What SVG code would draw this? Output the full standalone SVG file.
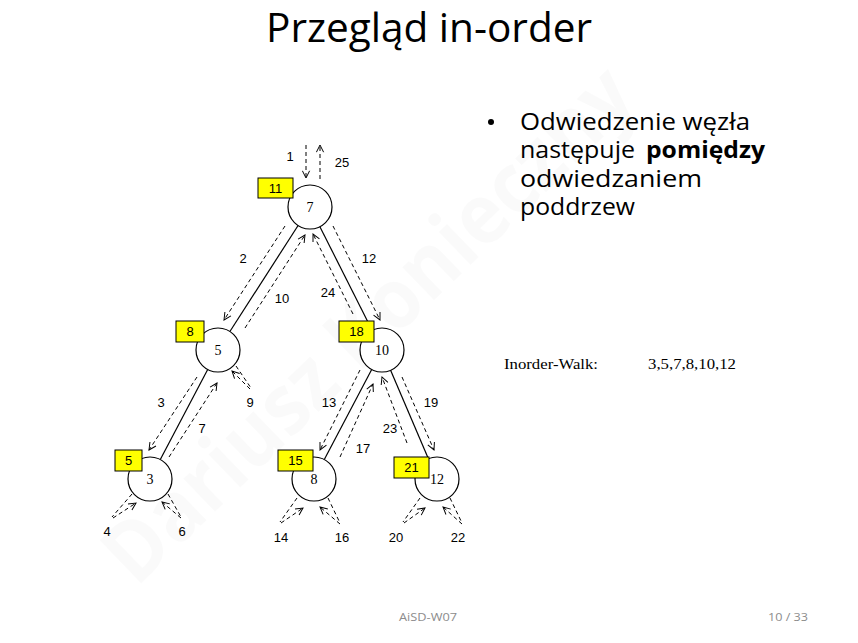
<svg xmlns="http://www.w3.org/2000/svg" width="858" height="643" viewBox="0 0 858 643">
  <style>
    .title { font-family: "Open Sans", "Liberation Sans", sans-serif; font-size: 40px; fill: #000; }
    .bullet { font-family: "Open Sans", "Liberation Sans", sans-serif; font-size: 24px; fill: #000; }
    .foot { font-family: "Open Sans", "Liberation Sans", sans-serif; font-size: 11px; fill: #8c8c8c; }
    .serif { font-family: "Liberation Serif", "Times New Roman", serif; fill: #000; }
    .num { font-family: "Liberation Sans", Arial, sans-serif; font-size: 13px; fill: #000; text-anchor: middle; }
    .key { font-family: "Liberation Sans", Arial, sans-serif; font-size: 13px; fill: #000; text-anchor: middle; }
    .circle { fill: #fff; stroke: #000; stroke-width: 1.2; }
    .box { fill: #ffff00; stroke: #000; stroke-width: 1; }
    .nodeval { font-family: "Liberation Serif", "Times New Roman", serif; font-size: 14px; fill: #000; text-anchor: middle; }
    .edge { stroke: #000; stroke-width: 1.2; fill: none; }
    .walk { stroke: #000; stroke-width: 1; fill: none; stroke-dasharray: 4 3; }
    .walk-a { stroke: #000; stroke-width: 1; fill: none; stroke-dasharray: 4 3; marker-end: url(#open); }
  </style>
  <defs>
    <marker id="open" viewBox="0 0 10 10" refX="9" refY="5" markerWidth="9" markerHeight="9" markerUnits="userSpaceOnUse" orient="auto">
      <path d="M1,1 L9,5 L1,9" fill="none" stroke="#000" stroke-width="1.1" stroke-dasharray="none"/>
    </marker>
  </defs>

  <rect width="858" height="643" fill="#fff"/>

  <!-- faint diagonal author watermark -->
  <text x="388" y="345" transform="rotate(-44 388 345)" text-anchor="middle" font-family="'Open Sans', 'Liberation Sans', sans-serif" font-weight="bold" font-size="84" fill="#000" fill-opacity="0.018" textLength="700" lengthAdjust="spacingAndGlyphs">Dariusz Konieczny</text>

  <!-- heading -->
  <text class="title" x="429" y="42" text-anchor="middle" textLength="326" lengthAdjust="spacingAndGlyphs">Przegląd in-order</text>

  <!-- bullet point -->
  <g id="bullet-text">
    <circle cx="491" cy="122" r="3" fill="#000"/>
    <text class="bullet" x="520" y="130" textLength="230" lengthAdjust="spacingAndGlyphs">Odwiedzenie węzła</text>
    <text class="bullet" x="520" y="158" textLength="115" lengthAdjust="spacingAndGlyphs">następuje</text>
    <text class="bullet" x="646" y="158" font-weight="bold" textLength="119" lengthAdjust="spacingAndGlyphs">pomiędzy</text>
    <text class="bullet" x="520" y="186.5" textLength="182" lengthAdjust="spacingAndGlyphs">odwiedzaniem</text>
    <text class="bullet" x="520" y="214.5" textLength="115" lengthAdjust="spacingAndGlyphs">poddrzew</text>
  </g>

  <!-- traversal result -->
  <g id="inorder-result">
    <text class="serif" x="504" y="369" font-size="15" textLength="94" lengthAdjust="spacingAndGlyphs">Inorder-Walk:</text>
    <text class="serif" x="648" y="369" font-size="15" textLength="88" lengthAdjust="spacingAndGlyphs">3,5,7,8,10,12</text>
  </g>

  <!-- tree edges and walk arrows -->
  <g id="connectors">
    <line class="edge" x1="298.1" y1="225.5" x2="229.9" y2="331.5"/>
    <line class="edge" x1="319.9" y1="226.7" x2="372.1" y2="330.3"/>
    <line class="edge" x1="207.7" y1="369.5" x2="160.3" y2="459.5"/>
    <line class="edge" x1="371.7" y1="369.5" x2="324.3" y2="459.5"/>
    <line class="edge" x1="390.6" y1="370.2" x2="428.4" y2="458.8"/>

    <!-- walk along edges -->
    <line class="walk-a" x1="306" y1="145" x2="306" y2="178"/>
    <line class="walk-a" x1="320" y1="179" x2="320" y2="145"/>
    <line class="walk-a" x1="285" y1="226" x2="224" y2="320"/>
    <line class="walk-a" x1="245" y1="328" x2="305" y2="235"/>
    <line class="walk-a" x1="333" y1="226" x2="380" y2="320"/>
    <line class="walk-a" x1="353" y1="314" x2="313" y2="234"/>
    <line class="walk-a" x1="197" y1="377" x2="149" y2="450"/>
    <line class="walk-a" x1="169" y1="457" x2="217" y2="383"/>
    <line class="walk-a" x1="360" y1="370" x2="320" y2="450"/>
    <line class="walk-a" x1="340" y1="457" x2="373" y2="384"/>
    <line class="walk-a" x1="402" y1="377" x2="434" y2="450"/>
    <line class="walk-a" x1="407" y1="443" x2="382" y2="377"/>

    <!-- walk into empty subtrees -->
    <line class="walk" x1="236" y1="366" x2="251" y2="388"/>
    <line class="walk-a" x1="250" y1="389" x2="232" y2="371"/>
    <line class="walk" x1="132" y1="494" x2="112" y2="517"/>
    <line class="walk-a" x1="113" y1="518" x2="136" y2="503"/>
    <line class="walk" x1="168" y1="494" x2="181" y2="517"/>
    <line class="walk-a" x1="181" y1="518" x2="162" y2="502"/>
    <line class="walk" x1="297" y1="498" x2="280" y2="522"/>
    <line class="walk-a" x1="281" y1="523" x2="303" y2="508"/>
    <line class="walk" x1="328" y1="498" x2="340" y2="523"/>
    <line class="walk-a" x1="340" y1="524" x2="320" y2="507"/>
    <line class="walk" x1="420" y1="498" x2="403" y2="522"/>
    <line class="walk-a" x1="404" y1="523" x2="425" y2="508"/>
    <line class="walk" x1="450" y1="498" x2="462" y2="523"/>
    <line class="walk-a" x1="462" y1="524" x2="443" y2="507"/>

    <!-- step numbers -->
    <text class="num" x="290" y="160.5">1</text>
    <text class="num" x="342" y="167">25</text>
    <text class="num" x="243" y="263">2</text>
    <text class="num" x="282" y="303">10</text>
    <text class="num" x="369" y="263">12</text>
    <text class="num" x="328" y="297">24</text>
    <text class="num" x="161" y="406.5">3</text>
    <text class="num" x="250" y="406.5">9</text>
    <text class="num" x="329" y="406.5">13</text>
    <text class="num" x="431" y="406.5">19</text>
    <text class="num" x="202" y="433">7</text>
    <text class="num" x="390" y="433">23</text>
    <text class="num" x="363" y="453">17</text>
    <text class="num" x="107" y="535.5">4</text>
    <text class="num" x="182" y="535.5">6</text>
    <text class="num" x="281" y="542">14</text>
    <text class="num" x="342" y="542">16</text>
    <text class="num" x="396" y="542">20</text>
    <text class="num" x="458" y="542">22</text>
  </g>

  <!-- nodes -->
  <g id="node-7">
    <circle class="circle" cx="310" cy="207" r="22"/>
    <text class="nodeval" x="310" y="212">7</text>
    <rect class="box" x="258" y="178" width="35" height="20"/>
    <text class="key" x="275.5" y="193">11</text>
  </g>
  <g id="node-5">
    <circle class="circle" cx="218" cy="350" r="22"/>
    <text class="nodeval" x="218" y="355">5</text>
    <rect class="box" x="176" y="321" width="28" height="21"/>
    <text class="key" x="190" y="336">8</text>
  </g>
  <g id="node-10">
    <circle class="circle" cx="382" cy="350" r="22"/>
    <text class="nodeval" x="382" y="355">10</text>
    <rect class="box" x="339" y="321" width="35" height="21"/>
    <text class="key" x="356.5" y="336">18</text>
  </g>
  <g id="node-3">
    <circle class="circle" cx="150" cy="479" r="22"/>
    <text class="nodeval" x="150" y="484">3</text>
    <rect class="box" x="115" y="450" width="27" height="21"/>
    <text class="key" x="128.5" y="465">5</text>
  </g>
  <g id="node-8">
    <circle class="circle" cx="314" cy="479" r="22"/>
    <text class="nodeval" x="314" y="484">8</text>
    <rect class="box" x="278" y="450" width="35" height="21"/>
    <text class="key" x="295.5" y="465">15</text>
  </g>
  <g id="node-12">
    <circle class="circle" cx="437" cy="479" r="22"/>
    <text class="nodeval" x="437" y="484">12</text>
    <rect class="box" x="394" y="457" width="35" height="21"/>
    <text class="key" x="411.5" y="472">21</text>
  </g>

  <!-- footer -->
  <text class="foot" x="399" y="621" textLength="58" lengthAdjust="spacingAndGlyphs">AiSD-W07</text>
  <text class="foot" x="768" y="621" textLength="40" lengthAdjust="spacingAndGlyphs">10 / 33</text>
</svg>
